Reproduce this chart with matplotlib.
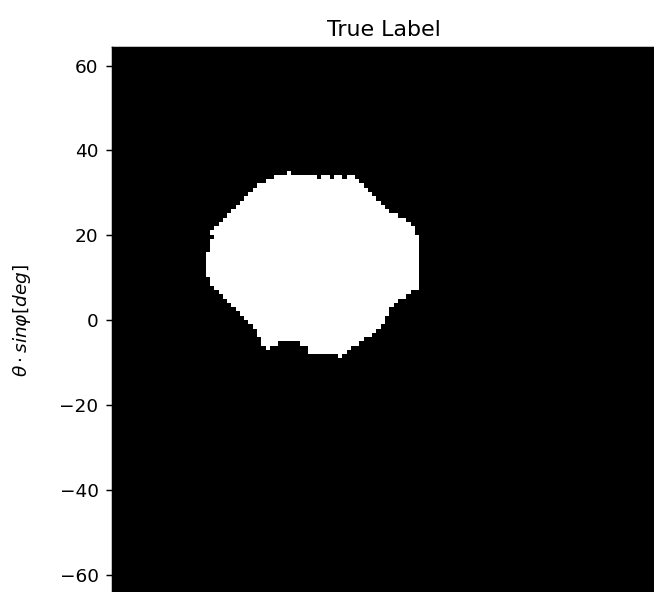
import numpy as np
import matplotlib
matplotlib.use("Agg")
import matplotlib.pyplot as plt

# ---- data ----
GRID_SIZE = 128            # mask is GRID_SIZE x GRID_SIZE cells
AXIS_LIMIT = 64.3          # degrees, half-width of the image extent
Y_TICKS = [-60, -40, -20, 0, 20, 40, 60]
TITLE = "True Label"
Y_LABEL = r"$\theta \cdot sin\varphi[deg]$"

# white runs of the label mask: (row from top, [(first col, end col exclusive), ...])
MASK_RUNS = [
    (29, [(41, 42)]),
    (30, [(38, 48), (49, 51), (52, 54), (55, 57)]),
    (31, [(36, 58)]),
    (32, [(34, 59)]),
    (33, [(33, 60)]),
    (34, [(32, 61)]),
    (35, [(31, 62)]),
    (36, [(30, 63)]),
    (37, [(29, 64)]),
    (38, [(28, 65)]),
    (39, [(27, 67)]),
    (40, [(26, 69)]),
    (41, [(25, 70)]),
    (42, [(24, 71)]),
    (43, [(23, 71)]),
    (44, [(24, 72)]),
    (45, [(23, 72)]),
    (46, [(23, 72)]),
    (47, [(23, 72)]),
    (48, [(22, 72)]),
    (49, [(22, 72)]),
    (50, [(22, 72)]),
    (51, [(22, 72)]),
    (52, [(22, 72)]),
    (53, [(22, 72)]),
    (54, [(23, 72)]),
    (55, [(23, 72)]),
    (56, [(24, 72)]),
    (57, [(25, 70)]),
    (58, [(26, 69)]),
    (59, [(27, 67)]),
    (60, [(28, 66)]),
    (61, [(29, 65)]),
    (62, [(30, 65)]),
    (63, [(31, 64)]),
    (64, [(32, 64)]),
    (65, [(33, 63)]),
    (66, [(34, 62)]),
    (67, [(34, 61)]),
    (68, [(35, 59)]),
    (69, [(35, 39), (44, 58)]),
    (70, [(36, 37), (46, 56)]),
    (71, [(46, 55)]),
    (72, [(53, 54)]),
]

# ---- build mask ----
mask = np.zeros((GRID_SIZE, GRID_SIZE))
for row, runs in MASK_RUNS:
    for c0, c1 in runs:
        mask[row, c0:c1] = 1.0

# ---- figure ----
DPI = 133
W, H = 654, 592
fig = plt.figure(figsize=(W / DPI + 1e-4, H / DPI + 1e-4), dpi=DPI)

left_px, top_px, size_px = 111.5, 47.3, 545.8
ax = fig.add_axes([left_px / W, 1 - (top_px + size_px) / H, size_px / W, size_px / H])
ax.imshow(mask, cmap="gray", vmin=0, vmax=1, interpolation="nearest",
          extent=[-AXIS_LIMIT, AXIS_LIMIT, -AXIS_LIMIT, AXIS_LIMIT])
ax.set_yticks(Y_TICKS)
# x tick labels lie below the cropped bottom edge in the reference
ax.tick_params(axis="x", labelbottom=False)
ax.set_title(TITLE)
ax.set_ylabel(Y_LABEL)
ax.yaxis.set_label_coords(-0.144, 0.5)

fig.savefig("out.png", dpi=DPI)
